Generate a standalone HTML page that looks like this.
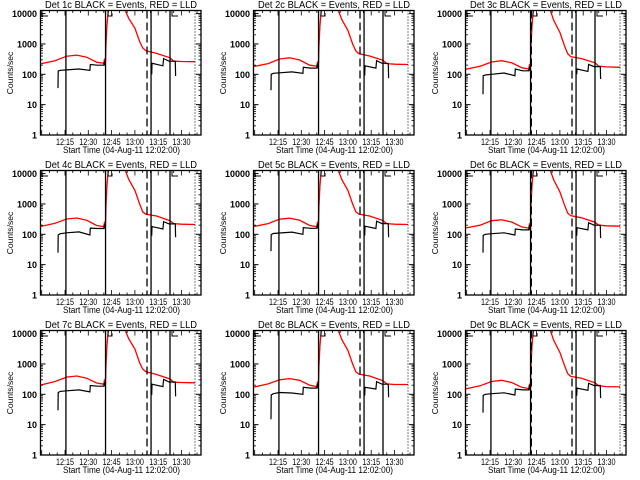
<!DOCTYPE html>
<html><head><meta charset="utf-8"><style>
body{margin:0;background:#fff;}
svg{display:block;font-family:"Liberation Sans",sans-serif;}
</style></head><body>
<svg id="c" width="640" height="480" viewBox="0 0 640 480"></svg>
<script>
// minutes after 12:00
const redT = [-1, 8.6, 16, 22.5, 29, 35.4, 40, 40.5, 41, 41.4, 42, 42.7, 44, 52.5, 54, 56, 60, 63, 65, 67, 74, 82.6, 85, 90, 98.7];
const blk1T = [10.5, 10.6, 12, 16, 24, 31, 31.3, 36, 40, 40.4, 40.8];
const blk2T = [70.8, 71, 78, 78.5, 82, 86, 86.2];
const detNames = ["Det 1c","Det 2c","Det 3c","Det 4c","Det 5c","Det 6c","Det 7c","Det 8c","Det 9c"];
const red1 = [220,280,395,430,365,250,230,330,230,1000,4000,10000,30000,30000,12000,7000,3300,1200,740,600,490,350,270,265,260];
const red2 = [180,225,320,350,295,200,185,265,185,900,3800,10000,30000,30000,12000,6500,2800,1000,600,480,400,290,225,215,210];
const red3 = [145,185,255,280,240,165,150,215,150,800,3500,10000,30000,30000,12000,6000,2400,850,480,380,330,240,185,175,170];
const red4 = [180,230,320,345,290,195,180,260,180,900,3800,10000,30000,30000,12000,6500,2800,1000,550,460,400,280,225,215,210];
const red5 = [180,225,315,340,290,195,180,260,180,900,3800,10000,30000,30000,12000,6500,2800,1000,560,460,400,285,225,215,210];
const red6 = [160,200,280,300,255,175,160,230,160,850,3600,10000,30000,30000,12000,6200,2500,900,500,410,350,250,200,190,185];
const red7 = [200,265,370,400,340,235,215,310,215,950,3900,10000,30000,30000,12000,6800,3100,1100,680,560,450,320,250,245,240];
const red8 = [170,220,300,330,290,200,180,265,180,900,3800,10000,30000,30000,12000,6500,2800,1000,560,460,400,280,220,210,210];
const red9 = [150,190,265,290,245,170,155,220,155,820,3500,10000,30000,30000,12000,6000,2400,870,480,390,340,240,190,180,175];
const blkA1 = [35,127,135,140,150,135,210,200,200,270,195];
const blkA2 = [30,100,108,112,120,108,170,160,160,220,160];
const blkA3 = [22,90,95,100,110,90,150,130,130,180,130];
const blkA4 = [25,95,105,112,120,95,160,155,155,210,155];
const blkA5 = [28,98,106,110,118,100,165,158,158,215,158];
const blkA6 = [25,92,100,105,112,95,150,140,140,200,140];
const blkA7 = [30,115,125,130,140,120,195,185,185,250,185];
const blkA8 = [15,95,105,115,110,100,170,160,160,220,160];
const blkA9 = [25,92,100,105,112,95,150,140,140,200,140];
const blkB1 = [100,230,190,330,270,270,88];
const blkB2 = [90,190,160,280,230,230,75];
const blkB3 = [100,150,125,210,180,180,70];
const blkB4 = [90,180,150,260,220,220,80];
const blkB5 = [90,185,155,270,225,225,80];
const blkB6 = [90,165,140,240,200,200,75];
const blkB7 = [95,215,180,310,255,255,85];
const blkB8 = [90,170,150,260,215,215,80];
const blkB9 = [90,160,135,230,195,195,75];
const redSeries = [red1,red2,red3,red4,red5,red6,red7,red8,red9];
const blkSegA = [blkA1,blkA2,blkA3,blkA4,blkA5,blkA6,blkA7,blkA8,blkA9];
const blkSegB = [blkB1,blkB2,blkB3,blkB4,blkB5,blkB6,blkB7,blkB8,blkB9];
const xTickMin = [15,30,45,60,75,90];
const xTickLabels = ["12:15","12:30","12:45","13:00","13:15","13:30"];
const yTickVals = [1,10,100,1000,10000];
const yTickLabels = ["1","10","100","1000","10000"];
const solidLinesT = [15.6, 41.1, 70.4, 82.6];
const dashedLinesT = [67.8];
const dottedLinesT = [98.7];

const NS="http://www.w3.org/2000/svg";
const svg=document.getElementById('c');
function mk(tag,attrs,parent){const e=document.createElementNS(NS,tag);for(const k in attrs)e.setAttribute(k,attrs[k]);(parent||svg).appendChild(e);return e;}
const L=40.5,R=201,T=10.5,B=135;
function xs(m){return 65+(m-15)*23.3/15;}
function ys(v){return 135-Math.log10(v)*30.35;}
const colX=[0,213,425], rowY=[0,160,320];
for(let p=0;p<9;p++){
  const ox=colX[p%3], oy=rowY[Math.floor(p/3)];
  const g=mk('g',{transform:`translate(${ox},${oy})`});
  
  
  const cp='clip'+p;
  const cl=mk('clipPath',{id:cp},g); mk('rect',{x:L,y:T,width:R-L,height:B-T},cl);
  const pts=(tt,vv)=>tt.map((t,i)=>xs(t).toFixed(1)+','+ys(vv[i]).toFixed(1)).join(' ');
  const r=mk('polyline',{points:pts(redT,redSeries[p]),fill:'none',stroke:'#f00','stroke-width':1.3,'clip-path':`url(#${cp})`},g);
  
  
  const b1=mk('polyline',{points:pts(blk1T,blkSegA[p]),fill:'none',stroke:'#000','stroke-width':1.2,'clip-path':`url(#${cp})`},g);
  
  
  const b2=mk('polyline',{points:pts(blk2T,blkSegB[p]),fill:'none',stroke:'#000','stroke-width':1.2,'clip-path':`url(#${cp})`},g);
  
  
  solidLinesT.forEach(t=>{const e=mk('line',{x1:xs(t),x2:xs(t),y1:T,y2:B,stroke:'#000','stroke-width':1.3},g);
    
    });
  const dl=(p%3===2)?dashedLinesT.concat([41.6]):dashedLinesT;
  dl.forEach(t=>{const e=mk('line',{x1:xs(t),x2:xs(t),y1:T,y2:B,stroke:'#000','stroke-width':1.3,'stroke-dasharray':'8,4'},g);
    
    });
  dottedLinesT.forEach(t=>{const e=mk('line',{x1:xs(t),x2:xs(t),y1:T,y2:B,stroke:'#000','stroke-width':1,'stroke-dasharray':'1,2'},g);
    
    });
  [[42,48],[172,178]].forEach(([a,c])=>{mk('polyline',{points:`${a},${T} ${a},16 ${c},16`,fill:'none',stroke:'#000','stroke-width':1},g);});
  mk('polyline',{points:`108,${T} 108,16 112,16 112,13`,fill:'none',stroke:'#000','stroke-width':1},g);
  const bx=mk('rect',{x:L,y:T,width:R-L,height:B-T,fill:'none',stroke:'#000','stroke-width':1.3},g);
  
  
  yTickVals.forEach((v,i)=>{const y=ys(v);
    mk('line',{x1:L,x2:L+5,y1:y,y2:y,stroke:'#000'},g);mk('line',{x1:R-5,x2:R,y1:y,y2:y,stroke:'#000'},g);
    if(i<4)for(let k=2;k<10;k++){const yy=ys(v*k);mk('line',{x1:L,x2:L+2.5,y1:yy,y2:yy,stroke:'#000','stroke-width':0.8},g);mk('line',{x1:R-2.5,x2:R,y1:yy,y2:yy,stroke:'#000','stroke-width':0.8},g);}
    const t=mk('text',{x:37,y:y+3.5,'font-size':9,'text-anchor':'end','font-weight':'bold'},g);t.textContent=yTickLabels[i];
    
    });
  for(let m=0;m<=100;m+=5){const x=xs(m);if(x<L||x>R)continue;const len=(m%15===0)?5:2.5;
    mk('line',{x1:x,x2:x,y1:B,y2:B-len,stroke:'#000','stroke-width':0.8},g);mk('line',{x1:x,x2:x,y1:T,y2:T+len,stroke:'#000','stroke-width':0.8},g);}
  xTickMin.forEach((m,i)=>{const t=mk('text',{x:xs(m)-9,y:145,'font-size':9,textLength:18,lengthAdjust:'spacingAndGlyphs'},g);t.textContent=xTickLabels[i];
    
    });
  const xt=mk('text',{x:63,y:153,'font-size':9.5,textLength:117,lengthAdjust:'spacingAndGlyphs'},g);xt.textContent='Start Time (04-Aug-11 12:02:00)';
  
  
  const yt=mk('text',{x:0,y:0,'font-size':8.5,'text-anchor':'middle',transform:'translate(13,73) rotate(-90)'},g);yt.textContent='Counts/sec';
  
  
  const tt=mk('text',{x:45,y:8,'font-size':10.5,textLength:152,lengthAdjust:'spacingAndGlyphs'},g);tt.textContent=detNames[p]+' BLACK = Events, RED = LLD';
  
  
}
</script>
</body></html>
